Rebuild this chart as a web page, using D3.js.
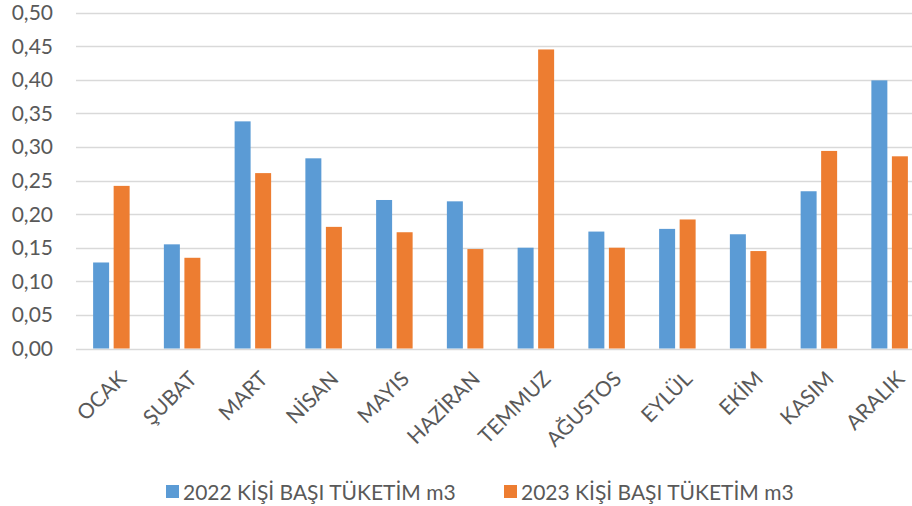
<!DOCTYPE html>
<html>
<head>
<meta charset="utf-8">
<script src="https://cdn.jsdelivr.net/npm/d3@7"></script>
<style>
  body { margin: 0; background: #fff; }
  svg { display: block; font-family: Lato, "Noto Sans", sans-serif; }
</style>
</head>
<body>
<div id="paper"></div>
<script>
// months and per-person consumption (m3)
var months = ['OCAK', 'ŞUBAT', 'MART', 'NİSAN', 'MAYIS', 'HAZİRAN', 'TEMMUZ', 'AĞUSTOS', 'EYLÜL', 'EKİM', 'KASIM', 'ARALIK']
var values2022 = [0.128, 0.155, 0.338, 0.283, 0.221, 0.219, 0.150, 0.174, 0.178, 0.170, 0.234, 0.399]
var values2023 = [0.242, 0.135, 0.261, 0.181, 0.173, 0.148, 0.445, 0.150, 0.192, 0.145, 0.294, 0.286]
var seriesNames = ['2022 KİŞİ BAŞI TÜKETİM m3', '2023 KİŞİ BAŞI TÜKETİM m3']
var yTicks = [0, 0.05, 0.10, 0.15, 0.20, 0.25, 0.30, 0.35, 0.40, 0.45, 0.50]

var colors = ['#5B9BD5', '#ED7D31']
var width = 912, height = 506

var svg = d3.select('#paper')
    .append('svg')
    .attr('width', width)
    .attr('height', height)

// plot runs past the right edge, the original is cropped there
var x = d3.scaleBand().domain(months).range([76, 925])
var y = d3.scaleLinear().domain([0, 0.5]).range([348.5, 12.5])

var fmt = function(d) { return d3.format('.2f')(d).replace('.', ',') }

// gridlines
svg.append('g')
    .selectAll('line')
    .data(yTicks)
    .join('line')
    .attr('x1', 76)
    .attr('x2', width)
    .attr('y1', d => Math.round(y(d)) + 0.5)
    .attr('y2', d => Math.round(y(d)) + 0.5)
    .attr('stroke', '#D9D9D9')
    .attr('stroke-width', 1.5)

// y labels
svg.append('g')
    .selectAll('text')
    .data(yTicks)
    .join('text')
    .attr('x', 53)
    .attr('y', d => y(d))
    .attr('dy', '0.36em')
    .attr('text-anchor', 'end')
    .attr('fill', '#595959')
    .style('font-size', '21px')
    .text(fmt)

// bars
var step = x.step()
var barW = step * 0.226
var gap = step * 0.064
var groups = [values2022, values2023]

groups.forEach(function(vals, s) {
    svg.append('g')
        .selectAll('rect')
        .data(months)
        .join('rect')
        .attr('x', function(d) {
            var c = x(d) + step / 2
            return s == 0 ? c - gap / 2 - barW : c + gap / 2
        })
        .attr('y', (d, i) => y(vals[i]))
        .attr('width', barW)
        .attr('height', (d, i) => y(0) - y(vals[i]))
        .attr('fill', colors[s])
})

// x labels, rotated
svg.append('g')
    .selectAll('text')
    .data(months)
    .join('text')
    .attr('transform', d => 'translate(' + (x(d) + step / 2 + 5) + ',369) rotate(-45)')
    .attr('text-anchor', 'end')
    .attr('dy', '0.75em')
    .attr('fill', '#595959')
    .style('font-size', '21px')
    .text(d => d)

// legend
var legendX = [166, 504]
var legend = svg.append('g')
    .selectAll('g')
    .data(seriesNames)
    .join('g')
    .attr('transform', (d, i) => 'translate(' + legendX[i] + ',485)')

legend.append('rect')
    .attr('width', 13)
    .attr('height', 13)
    .attr('fill', (d, i) => colors[i])

legend.append('text')
    .attr('x', 17)
    .attr('y', 14.5)
    .attr('fill', '#595959')
    .style('font-size', '21px')
    .text(d => d)
</script>
</body>
</html>
